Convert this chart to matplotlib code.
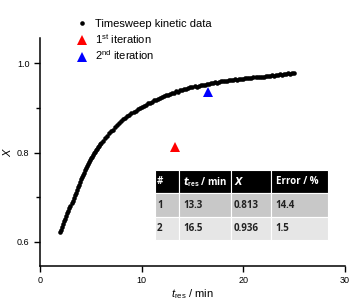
import numpy as np
import matplotlib
matplotlib.use("Agg")
import matplotlib.pyplot as plt

plt.rcParams['font.family'] = ['Liberation Sans', 'DejaVu Sans']
plt.rcParams['mathtext.fontset'] = 'custom'
plt.rcParams['mathtext.rm'] = 'Liberation Sans'
plt.rcParams['mathtext.it'] = 'Liberation Sans:italic'
plt.rcParams['mathtext.bf'] = 'Liberation Sans:bold'

# Timesweep kinetic data (residence time / min, conversion)
t_res = [2.0, 2.1, 2.2, 2.3, 2.4, 2.5, 2.6, 2.7, 2.8, 2.9,
         3.0, 3.1, 3.2, 3.3, 3.4, 3.5, 3.6, 3.7, 3.8, 3.9,
         4.0, 4.1, 4.2, 4.3, 4.4, 4.5, 4.6, 4.7, 4.8, 4.9,
         5.0, 5.1, 5.2, 5.3, 5.4, 5.5, 5.6, 5.7, 5.8, 5.9, 6.0,
         6.2, 6.4, 6.6, 6.8, 7.0, 7.2, 7.4, 7.6, 7.8, 8.0,
         8.2, 8.4, 8.6, 8.8, 9.0, 9.2, 9.4, 9.6, 9.8, 10.0,
         10.2, 10.4, 10.6, 10.8, 11.0, 11.2, 11.4, 11.6, 11.8, 12.0,
         12.2, 12.4, 12.6, 12.8, 13.0, 13.2, 13.4, 13.6, 13.8, 14.0,
         14.2, 14.4, 14.6, 14.8, 15.0, 15.2, 15.4, 15.6, 15.8, 16.0,
         16.2, 16.4, 16.6, 16.8, 17.0, 17.2, 17.4, 17.6, 17.8, 18.0,
         18.2, 18.4, 18.6, 18.8, 19.0, 19.2, 19.4, 19.6, 19.8, 20.0,
         20.2, 20.4, 20.6, 20.8, 21.0, 21.2, 21.4, 21.6, 21.8, 22.0,
         22.2, 22.4, 22.6, 22.8, 23.0, 23.2, 23.4, 23.6, 23.8, 24.0,
         24.2, 24.4, 24.6, 24.8, 25.0]
conv = [0.622, 0.627, 0.634, 0.639, 0.646, 0.652, 0.657, 0.664, 0.669, 0.675,
        0.680, 0.687, 0.692, 0.698, 0.705, 0.710, 0.716, 0.722, 0.728, 0.733,
        0.740, 0.745, 0.750, 0.755, 0.760, 0.765, 0.769, 0.774, 0.779, 0.783,
        0.788, 0.791, 0.795, 0.798, 0.802, 0.805, 0.809, 0.812, 0.815, 0.819, 0.822,
        0.826, 0.833, 0.837, 0.843, 0.848, 0.851, 0.858, 0.862, 0.867, 0.871,
        0.876, 0.878, 0.882, 0.884, 0.888, 0.891, 0.893, 0.897, 0.899, 0.902,
        0.905, 0.906, 0.910, 0.911, 0.914, 0.917, 0.918, 0.920, 0.923, 0.924,
        0.926, 0.929, 0.929, 0.932, 0.933, 0.934, 0.937, 0.936, 0.939, 0.940,
        0.942, 0.942, 0.944, 0.946, 0.946, 0.948, 0.947, 0.949, 0.951, 0.951,
        0.952, 0.954, 0.953, 0.955, 0.955, 0.957, 0.956, 0.958, 0.959, 0.959,
        0.961, 0.960, 0.962, 0.962, 0.962, 0.964, 0.963, 0.965, 0.964, 0.965,
        0.966, 0.966, 0.967, 0.966, 0.968, 0.968, 0.969, 0.969, 0.970, 0.970,
        0.971, 0.971, 0.972, 0.973, 0.972, 0.974, 0.974, 0.975, 0.974, 0.976,
        0.976, 0.977, 0.976, 0.978, 0.977]

# iterations
iter_t = [13.3, 16.5]
iter_x = [0.813, 0.936]
iter_err = [14.4, 1.5]

fig = plt.figure(figsize=(3.62, 3.03), dpi=100)
ax = fig.add_axes([0.1105, 0.122, 0.8425, 0.7536])

ax.plot(t_res, conv, 'o', color='black', markersize=3.3, markeredgewidth=0,
        label='Timesweep kinetic data')
ax.plot(iter_t[0], iter_x[0], '^', color='#ff0000', markersize=7, markeredgewidth=0,
        label=r'1$^{\mathrm{st}}$ iteration')
ax.plot(iter_t[1], iter_x[1], '^', color='#0000ff', markersize=7, markeredgewidth=0,
        label=r'2$^{\mathrm{nd}}$ iteration')

ax.set_xlim(0, 30)
ax.set_ylim(0.546, 1.057)
ax.set_xticks([0, 10, 20, 30])
ax.set_yticks([0.6, 0.8, 1.0])
ax.set_yticks([0.7, 0.9], minor=True)
ax.tick_params(labelsize=6.5, length=4, width=1)
ax.tick_params(which='minor', length=3, width=1)
for s in ['top', 'right']:
    ax.spines[s].set_visible(False)
for s in ['left', 'bottom']:
    ax.spines[s].set_linewidth(1.1)

ax.set_xlabel(r'$t_{\mathrm{res}}$ / min', fontsize=8, labelpad=1)
ax.set_ylabel(r'$X$', fontsize=8, labelpad=3)

ax.legend(loc='upper left', bbox_to_anchor=(0.10, 1.10), frameon=False,
          fontsize=8, handletextpad=0.6, labelspacing=0.25, borderaxespad=0,
          handlelength=1.2)

# inset table
rows = [['#', r'$\mathbfit{t}_{\mathbf{res}}$ / min', r'$\mathbfit{X}$', 'Error / %']]
for i in range(len(iter_t)):
    rows.append([str(i + 1), f'{iter_t[i]:.1f}', f'{iter_x[i]:.3f}', f'{iter_err[i]:.1f}'])
tab = ax.table(cellText=rows, cellLoc='left',
               colWidths=[0.139, 0.30, 0.235, 0.33],
               bbox=[0.377, 0.114, 0.567, 0.306])
tab.auto_set_font_size(False)
fills = ['black', '#c8c8c8', '#e6e6e6']
for (r, c), cell in tab.get_celld().items():
    cell.set_facecolor(fills[r])
    cell.set_edgecolor('white')
    cell.set_linewidth(0.8)
    cell.PAD = 0.08
    txt = cell.get_text()
    txt.set_fontsize(7)
    txt.set_fontweight('bold')
    txt.set_fontfamily(['Open Sans', 'DejaVu Sans'])
    txt.set_color('white' if r == 0 else '#222222')

fig.savefig('out.png', dpi=100)
